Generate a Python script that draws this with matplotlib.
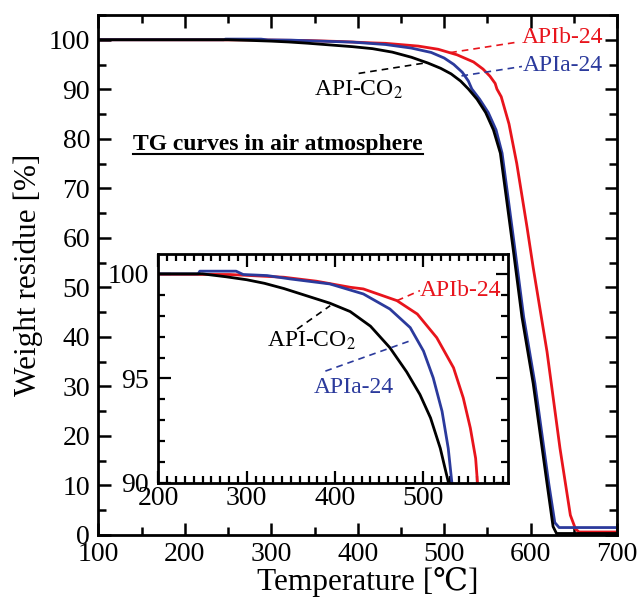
import numpy as np
import matplotlib.pyplot as plt
from matplotlib.ticker import MultipleLocator

plt.rcParams['font.family'] = ['Liberation Serif', 'DejaVu Serif']
plt.rcParams['mathtext.fontset'] = 'stix'

# TG data (temperature in C, weight residue in %)
t_co2 = [100, 200, 250, 277, 300, 320, 342, 368, 394, 417, 440, 462, 481, 496, 508, 519, 528,
         538, 548, 557, 565, 572, 580, 590, 603, 619, 626, 630, 700]
w_co2 = [100.0, 100.0, 100.0, 99.86, 99.72, 99.55, 99.3, 98.95, 98.6, 98.2, 97.5, 96.47, 95.31, 94.23, 93.11, 91.66, 90.06,
         88.0, 85.3, 81.8, 77.1, 68.0, 57.5, 44.0, 30.6, 10.4, 1.7, 0.3, 0.3]

t_a24 = [100, 245, 247, 288, 296, 323, 349, 379, 394, 432, 462, 485, 500, 511, 521, 528, 532,
         541, 551, 560, 567, 574, 582, 592, 605, 621, 628, 633, 700]
w_a24 = [100.0, 100.0, 100.13, 100.13, 99.97, 99.92, 99.76, 99.6, 99.52, 99.04, 98.32, 97.43, 96.31, 95.03, 93.43, 91.66, 90.06,
         88.0, 85.3, 81.8, 77.1, 68.0, 57.5, 44.0, 30.6, 10.4, 2.5, 1.5, 1.5]

t_b24 = [100, 281, 342, 379, 417, 432, 470, 493, 515, 534, 545, 553, 559, 561,
         566, 575, 584, 596, 603, 619, 634, 646, 652, 656, 700]
w_b24 = [100.0, 99.97, 99.84, 99.65, 99.36, 99.28, 98.72, 98.08, 96.95, 95.51, 94.07, 92.63, 91.18, 90.06,
         88.5, 83.0, 75.0, 62.0, 54.0, 37.0, 17.5, 4.0, 1.2, 0.6, 0.6]

red = '#e8141c'
blue = '#2b3a9c'
fs_tick = 20
fs_lab = 22.5
fs_note = 17

fig = plt.figure(figsize=(6.42, 5.97), dpi=100)
ax = fig.add_axes([0.1534, 0.1039, 0.8077, 0.8710])

ax.plot(t_b24, w_b24, color=red, lw=2)
ax.plot(t_a24, w_a24, color=blue, lw=2)
ax.plot(t_co2, w_co2, color='black', lw=2)

ax.set_xlim(100, 700)
ax.set_ylim(0, 105)
ax.xaxis.set_major_locator(MultipleLocator(100))
ax.xaxis.set_minor_locator(MultipleLocator(50))
ax.yaxis.set_major_locator(MultipleLocator(10))
ax.yaxis.set_minor_locator(MultipleLocator(5))
ax.tick_params(which='both', direction='in', top=True, right=True, width=1.8, labelsize=fs_tick)
ax.tick_params(which='major', length=9)
ax.tick_params(which='minor', length=6)
ax.tick_params(axis='x', pad=5)
ax.tick_params(axis='y', pad=6)
for s in ax.spines.values():
    s.set_linewidth(2)
ax.set_xlabel('Temperature [℃]', fontsize=fs_lab)
ax.xaxis.set_label_coords(0.52, -0.062)
ax.set_ylabel('Weight residue [%]', fontsize=fs_lab, labelpad=4)

# labels in the main plot
ax.plot([507, 584], [97.4, 99.5], color=red, lw=1.2, ls=(0, (4, 3)))
ax.text(590, 100.4, 'APIb-24', color=red, fontsize=fs_note, va='center', ha='left')
ax.plot([520, 590], [92.7, 94.6], color=blue, lw=1.2, ls=(0, (4, 3)))
ax.text(591, 94.7, 'APIa-24', color=blue, fontsize=fs_note, va='center', ha='left')
ax.plot([401, 481], [93.2, 95.4], color='black', lw=1.2, ls=(0, (4, 3)))
ax.text(401, 89.9, 'API-CO$_2$', color='black', fontsize=fs_note, va='center', ha='center')

title = ax.text(140, 78.8, 'TG curves in air atmosphere', fontsize=fs_note, fontweight='bold',
                va='center', ha='left')

# inset zoom of the onset region
ins = fig.add_axes([0.2466, 0.1910, 0.5452, 0.3835])
ins.plot(t_b24, w_b24, color=red, lw=2)
ins.plot(t_a24, w_a24, color=blue, lw=2)
ins.plot(t_co2, w_co2, color='black', lw=2)
ins.set_xlim(200, 596)
ins.set_ylim(90, 100.95)
ins.xaxis.set_major_locator(MultipleLocator(100))
ins.xaxis.set_minor_locator(MultipleLocator(10))
ins.yaxis.set_major_locator(MultipleLocator(5))
ins.yaxis.set_minor_locator(MultipleLocator(1))
ins.tick_params(which='both', direction='in', top=True, right=True, width=1.6, labelsize=fs_tick)
ins.tick_params(which='major', length=9)
ins.tick_params(which='minor', length=5)
ins.tick_params(axis='x', pad=2)
ins.tick_params(axis='y', pad=7)
for s in ins.spines.values():
    s.set_linewidth(2)

ins.plot([470, 496], [98.72, 99.2], color=red, lw=1.2, ls=(0, (4, 3)))
ins.text(496, 99.2, 'APIb-24', color=red, fontsize=fs_note, va='center', ha='left')
ins.plot([357, 394.5], [97.36, 98.48], color='black', lw=1.2, ls=(0, (4, 3)))
ins.text(373, 96.8, 'API-CO$_2$', color='black', fontsize=fs_note, va='center', ha='center')
ins.plot([389, 485], [95.35, 96.8], color=blue, lw=1.2, ls=(0, (4, 3)))
ins.text(421, 94.55, 'APIa-24', color=blue, fontsize=fs_note, va='center', ha='center')

# underline the title
fig.canvas.draw()
bb = title.get_window_extent().transformed(ax.transData.inverted())
ax.plot([bb.x0, bb.x1], [bb.y0 + 0.2, bb.y0 + 0.2], color='black', lw=1.5)

fig.savefig('out.png', dpi=100)
